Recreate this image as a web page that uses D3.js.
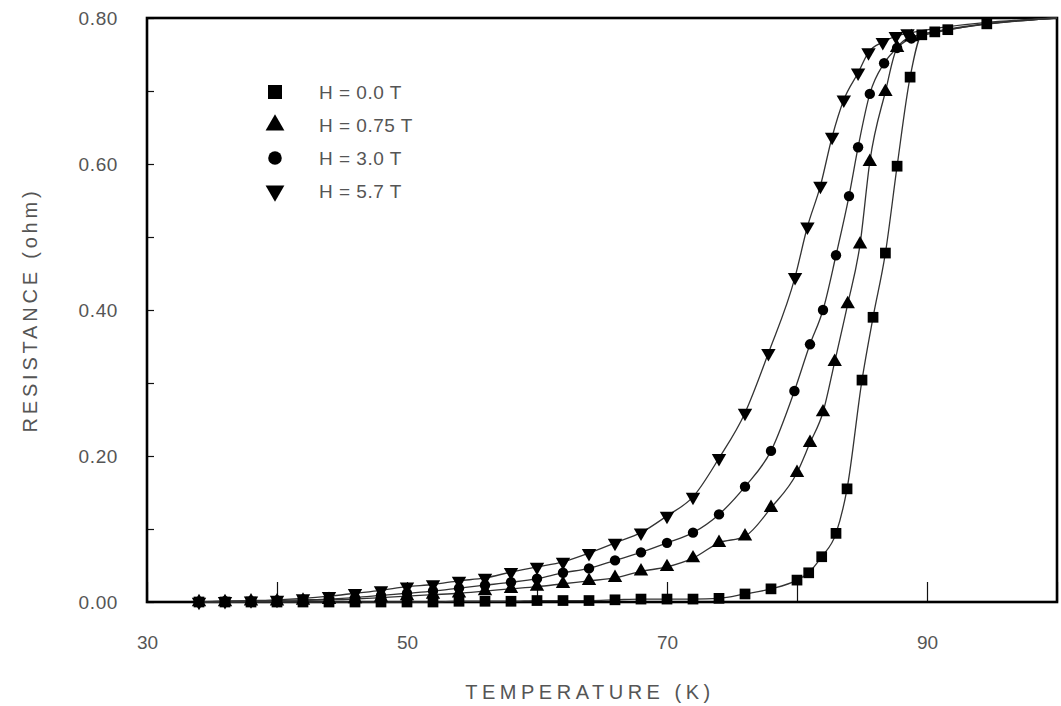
<!DOCTYPE html>
<html>
<head>
<meta charset="utf-8">
<script src="https://cdn.jsdelivr.net/npm/d3@7"></script>
<style>
  body { margin: 0; background: #fff; }
  svg { display: block; }
  text { font-family: "Liberation Sans Narrow", "Liberation Sans", Arial, sans-serif; fill: #555; }
</style>
</head>
<body>
<svg id="chart" width="1061" height="706"></svg>
<script>
// Resistance vs temperature for four applied fields
const fieldLabels = ["H = 0.0 T", "H = 0.75 T", "H = 3.0 T", "H = 5.7 T"];

const temp00 = [34, 36, 38, 40, 42, 44, 46, 48, 50, 52, 54, 56, 58, 60, 62, 64, 66, 68, 70, 72, 74, 76, 78, 80, 80.9, 81.9, 83, 83.85, 85, 85.85, 86.8, 87.7, 88.7, 89.6, 90.6, 91.6, 94.6];
const res00  = [0, 0, 0, 0, 0, 0, 0, 0, 0, 0, 0.001, 0.001, 0.001, 0.002, 0.002, 0.002, 0.003, 0.004, 0.004, 0.004, 0.005, 0.011, 0.018, 0.030, 0.040, 0.062, 0.094, 0.155, 0.304, 0.390, 0.478, 0.597, 0.719, 0.777, 0.781, 0.784, 0.792];

const temp075 = [34, 36, 38, 40, 42, 44, 46, 48, 50, 52, 54, 56, 58, 60, 62, 64, 66, 68, 70, 72, 74, 76, 78, 80, 81, 82, 82.9, 83.9, 84.85, 85.6, 86.8, 87.7, 88.8];
const res075  = [0, 0, 0.001, 0.001, 0.002, 0.003, 0.004, 0.006, 0.008, 0.010, 0.012, 0.015, 0.018, 0.021, 0.025, 0.029, 0.033, 0.042, 0.048, 0.060, 0.081, 0.090, 0.129, 0.177, 0.218, 0.260, 0.329, 0.408, 0.490, 0.603, 0.699, 0.759, 0.774];

const temp30 = [34, 36, 38, 40, 42, 44, 46, 48, 50, 52, 54, 56, 58, 60, 62, 64, 66, 68, 70, 72, 74, 76, 78, 79.8, 81, 82, 83, 84, 84.7, 85.6, 86.7, 87.7, 88.8];
const res30  = [0, 0.001, 0.001, 0.002, 0.003, 0.004, 0.006, 0.009, 0.012, 0.015, 0.019, 0.023, 0.027, 0.032, 0.040, 0.046, 0.057, 0.068, 0.081, 0.095, 0.120, 0.158, 0.207, 0.289, 0.353, 0.400, 0.475, 0.556, 0.623, 0.696, 0.738, 0.759, 0.772];

const temp57 = [34, 36, 38, 40, 42, 44, 46, 48, 50, 52, 54, 56, 58, 60, 62, 64, 66, 68, 70, 72, 74, 76, 77.8, 79.85, 80.8, 81.8, 82.7, 83.6, 84.7, 85.5, 86.6, 87.6, 88.5];
const res57  = [0, 0.001, 0.002, 0.003, 0.005, 0.008, 0.012, 0.016, 0.021, 0.024, 0.029, 0.033, 0.041, 0.048, 0.055, 0.067, 0.081, 0.095, 0.118, 0.144, 0.197, 0.259, 0.341, 0.445, 0.514, 0.570, 0.637, 0.688, 0.725, 0.753, 0.767, 0.775, 0.779];

// normal-state point where all curves meet
const normalState = [100, 0.80];

const xTicks = [30, 40, 50, 60, 70, 80, 90, 100];
const xLabels = [30, 50, 70, 90];
const yTicks = [0, 0.1, 0.2, 0.3, 0.4, 0.5, 0.6, 0.7, 0.8];
const yLabels = [0, 0.2, 0.4, 0.6, 0.8];

const series = [
  { label: fieldLabels[0], t: temp00, r: res00, sym: d3.symbolSquare, size: 115, rot: 0 },
  { label: fieldLabels[1], t: temp075, r: res075, sym: d3.symbolTriangle, size: 90, rot: 0 },
  { label: fieldLabels[2], t: temp30, r: res30, sym: d3.symbolCircle, size: 85, rot: 0 },
  { label: fieldLabels[3], t: temp57, r: res57, sym: d3.symbolTriangle, size: 90, rot: 180 }
];

const svg = d3.select("#chart");
const x = d3.scaleLinear().domain([30, 100]).range([147, 1057]);
const y = d3.scaleLinear().domain([0, 0.8]).range([602, 18]);

// axes: ticks point inward, only alternate ticks labelled
const yAxis = d3.axisLeft(y).tickValues(yTicks).tickSize(-7).tickPadding(29)
  .tickFormat(d => yLabels.some(v => Math.abs(v - d) < 1e-9) ? d3.format(".2f")(d) : "");
const gy = svg.append("g").attr("transform", `translate(${x(30)},0)`).call(yAxis);
gy.select(".domain").remove();
gy.selectAll(".tick line").attr("stroke", "#111").attr("stroke-width", 1.2);
gy.selectAll(".tick text").style("font-size", "19px").style("letter-spacing", "0.6px").attr("fill", "#555");

const xAxis = d3.axisBottom(x).tickValues(xTicks).tickSize(-20).tickPadding(34)
  .tickFormat(d => xLabels.includes(d) ? String(d) : "");
const gx = svg.append("g").attr("transform", `translate(0,${y(0)})`).call(xAxis);
gx.select(".domain").remove();
gx.selectAll(".tick line").attr("stroke", "#111").attr("stroke-width", 1.2);
gx.selectAll(".tick text").style("font-size", "19px").attr("fill", "#555");

// plot frame
svg.append("rect")
  .attr("x", x(30)).attr("y", y(0.8))
  .attr("width", x(100) - x(30)).attr("height", y(0) - y(0.8))
  .attr("fill", "none").attr("stroke", "#000").attr("stroke-width", 2.6);

// axis titles
svg.append("text")
  .attr("x", 590).attr("y", 699)
  .attr("text-anchor", "middle")
  .style("font-size", "20px").style("letter-spacing", "4.5px")
  .text("TEMPERATURE (K)");
svg.append("text")
  .attr("transform", `translate(37,${y(0.4)}) rotate(-90)`)
  .attr("text-anchor", "middle")
  .style("font-size", "20px").style("letter-spacing", "3.8px")
  .text("RESISTANCE (ohm)");

// curves
const line = d3.line().x(d => x(d[0])).y(d => y(d[1])).curve(d3.curveMonotoneX);
series.forEach(s => {
  const pts = s.t.map((t, i) => [t, s.r[i]]).concat([normalState]);
  svg.append("path")
    .attr("d", line(pts))
    .attr("fill", "none").attr("stroke", "#333").attr("stroke-width", 1.3);
});

// markers
series.forEach(s => {
  const shape = d3.symbol().type(s.sym).size(s.size);
  svg.append("g").selectAll("path")
    .data(s.t.map((t, i) => [t, s.r[i]]))
    .join("path")
    .attr("d", shape)
    .attr("transform", d => `translate(${x(d[0])},${y(d[1])}) rotate(${s.rot})`)
    .attr("fill", "#000");
});

// legend
const legend = svg.append("g").attr("transform", "translate(275,92)");
series.forEach((s, i) => {
  const row = legend.append("g").attr("transform", `translate(0,${i * 33})`);
  row.append("path")
    .attr("d", d3.symbol().type(s.sym).size(s.size * 1.7)())
    .attr("transform", `rotate(${s.rot})`)
    .attr("fill", "#000");
  row.append("text")
    .attr("x", 44).attr("dy", "0.36em")
    .style("font-size", "19px").style("letter-spacing", "0.5px")
    .text(s.label);
});
</script>
</body>
</html>
